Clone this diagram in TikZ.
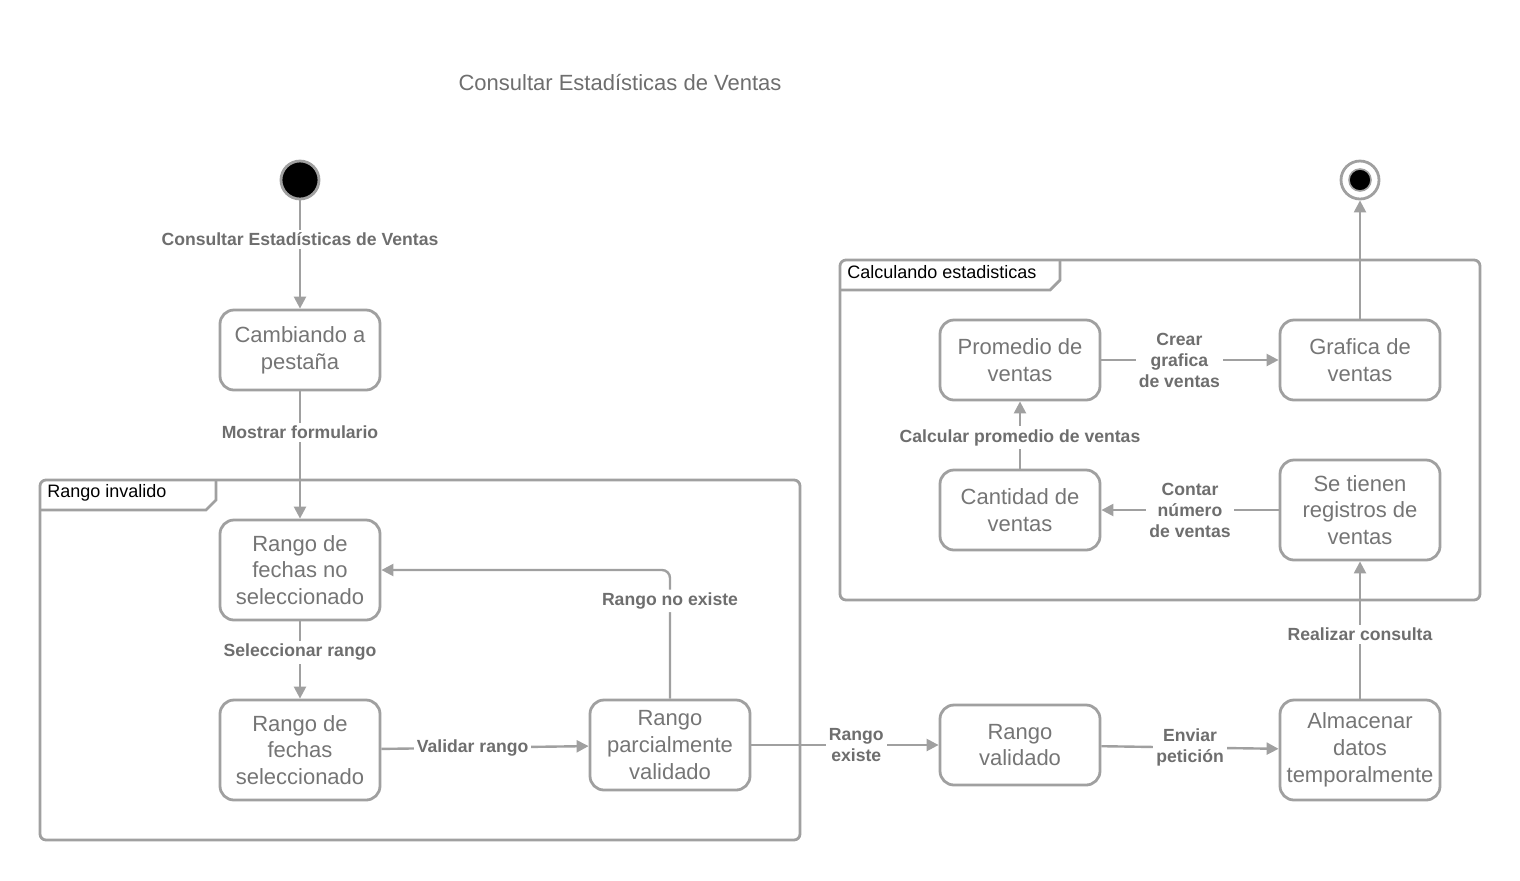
\documentclass[tikz,border=0pt]{standalone}
\usepackage{fontspec}
\setmainfont{Liberation Sans}
\usepackage{tikz}
\usetikzlibrary{arrows.meta}

\definecolor{linegray}{RGB}{160,160,160}
\definecolor{textgray}{RGB}{117,117,117}
\definecolor{labelgray}{RGB}{110,110,110}

\begin{document}
\begin{tikzpicture}[x=0.5pt,y=-0.5pt,
  state/.style={draw=linegray, line width=1.4pt, rounded corners=7pt, minimum width=80pt,
    align=center, text=textgray, inner sep=0pt, font=\fontsize{11}{13.4}\selectfont},
  lbl/.style={fill=white, text=labelgray, inner sep=1.5pt, align=center,
    font=\bfseries\fontsize{8.8}{10.5}\selectfont},
  edge/.style={draw=linegray, line width=1.2pt, -{Triangle[length=6pt,width=6pt]}},
  frame/.style={draw=linegray, line width=1.4pt, rounded corners=3pt},
  tab/.style={draw=linegray, line width=1.4pt},
  framelabel/.style={anchor=west, inner sep=0pt, font=\fontsize{9}{11}\selectfont}]
\useasboundingbox (0,0) rectangle (1520,880);

% Title
\node[text=labelgray, font=\fontsize{11}{13}\selectfont] (title) at (620,82) {Consultar Estadísticas de Ventas};

% Frames (drawn first, states on top)
\draw[frame] (40,480) rectangle (800,840);
\draw[tab] (40,510) -- (206,510) -- (216,500) -- (216,480);
\node[framelabel] (rinv) at (47,493) {Rango invalido};

\draw[frame] (840,260) rectangle (1480,600);
\draw[tab] (840,290) -- (1050,290) -- (1060,280) -- (1060,260);
\node[framelabel] (calc) at (847,272) {Calculando estadisticas};

% Initial and final states
\node[circle, fill=black, draw=linegray, line width=1.4pt, minimum size=19pt, inner sep=0pt] (ini) at (300,180) {};
\node[circle, fill=white, draw=linegray, line width=1.4pt, minimum size=19pt, inner sep=0pt] (fin) at (1360,180) {};
\node[circle, fill=black, draw=linegray, line width=0.8pt, minimum size=11pt, inner sep=0pt] (finin) at (1360,180) {};

% States
\node[state, minimum height=40pt] (camb) at (300,350) {Cambiando a\\pestaña};
\node[state, minimum height=50pt] (nosel) at (300,570) {Rango de\\fechas no\\seleccionado};
\node[state, minimum height=50pt] (sel) at (300,750) {Rango de\\fechas\\seleccionado};
\node[state, minimum height=45pt] (parc) at (670,745) {Rango\\parcialmente\\validado};
\node[state, minimum height=40pt] (valid) at (1020,745) {Rango\\validado};
\node[state, minimum height=50pt] (almac) at (1360,750) {Almacenar\\datos\\temporalmente};
\node[state, minimum height=50pt] (regs) at (1360,510) {Se tienen\\registros de\\ventas};
\node[state, minimum height=40pt] (cant) at (1020,510) {Cantidad de\\ventas};
\node[state, minimum height=40pt] (prom) at (1020,360) {Promedio de\\ventas};
\node[state, minimum height=40pt] (graf) at (1360,360) {Grafica de\\ventas};

% Transitions
\draw[edge] (ini) -- node[lbl, pos=0.36] {Consultar Estadísticas de Ventas} (camb);
\draw[edge] (camb) -- node[lbl, pos=0.32] {Mostrar formulario} (nosel);
\draw[edge] (nosel) -- node[lbl, pos=0.4] {Seleccionar rango} (sel);
\draw[edge] (sel) -- node[lbl, pos=0.44] {Validar rango} (parc);
\draw[edge, rounded corners=4pt] (parc.north) |- node[lbl, pos=0.38] {Rango no existe} (nosel.east);
\draw[edge] (parc) -- node[lbl, pos=0.56] {Rango\\existe} (valid);
\draw[edge] (valid) -- node[lbl, pos=0.5] {Enviar\\petición} (almac);
\draw[edge] (almac) -- node[lbl, pos=0.47] {Realizar consulta} (regs);
\draw[edge] (regs) -- node[lbl, pos=0.5] {Contar\\número\\de ventas} (cant);
\draw[edge] (cant) -- node[lbl, pos=0.46] {Calcular promedio de ventas} (prom);
\draw[edge] (prom) -- node[lbl, pos=0.44] {Crear\\grafica\\de ventas} (graf);
\draw[edge] (graf) -- (fin);

\end{tikzpicture}
\end{document}
